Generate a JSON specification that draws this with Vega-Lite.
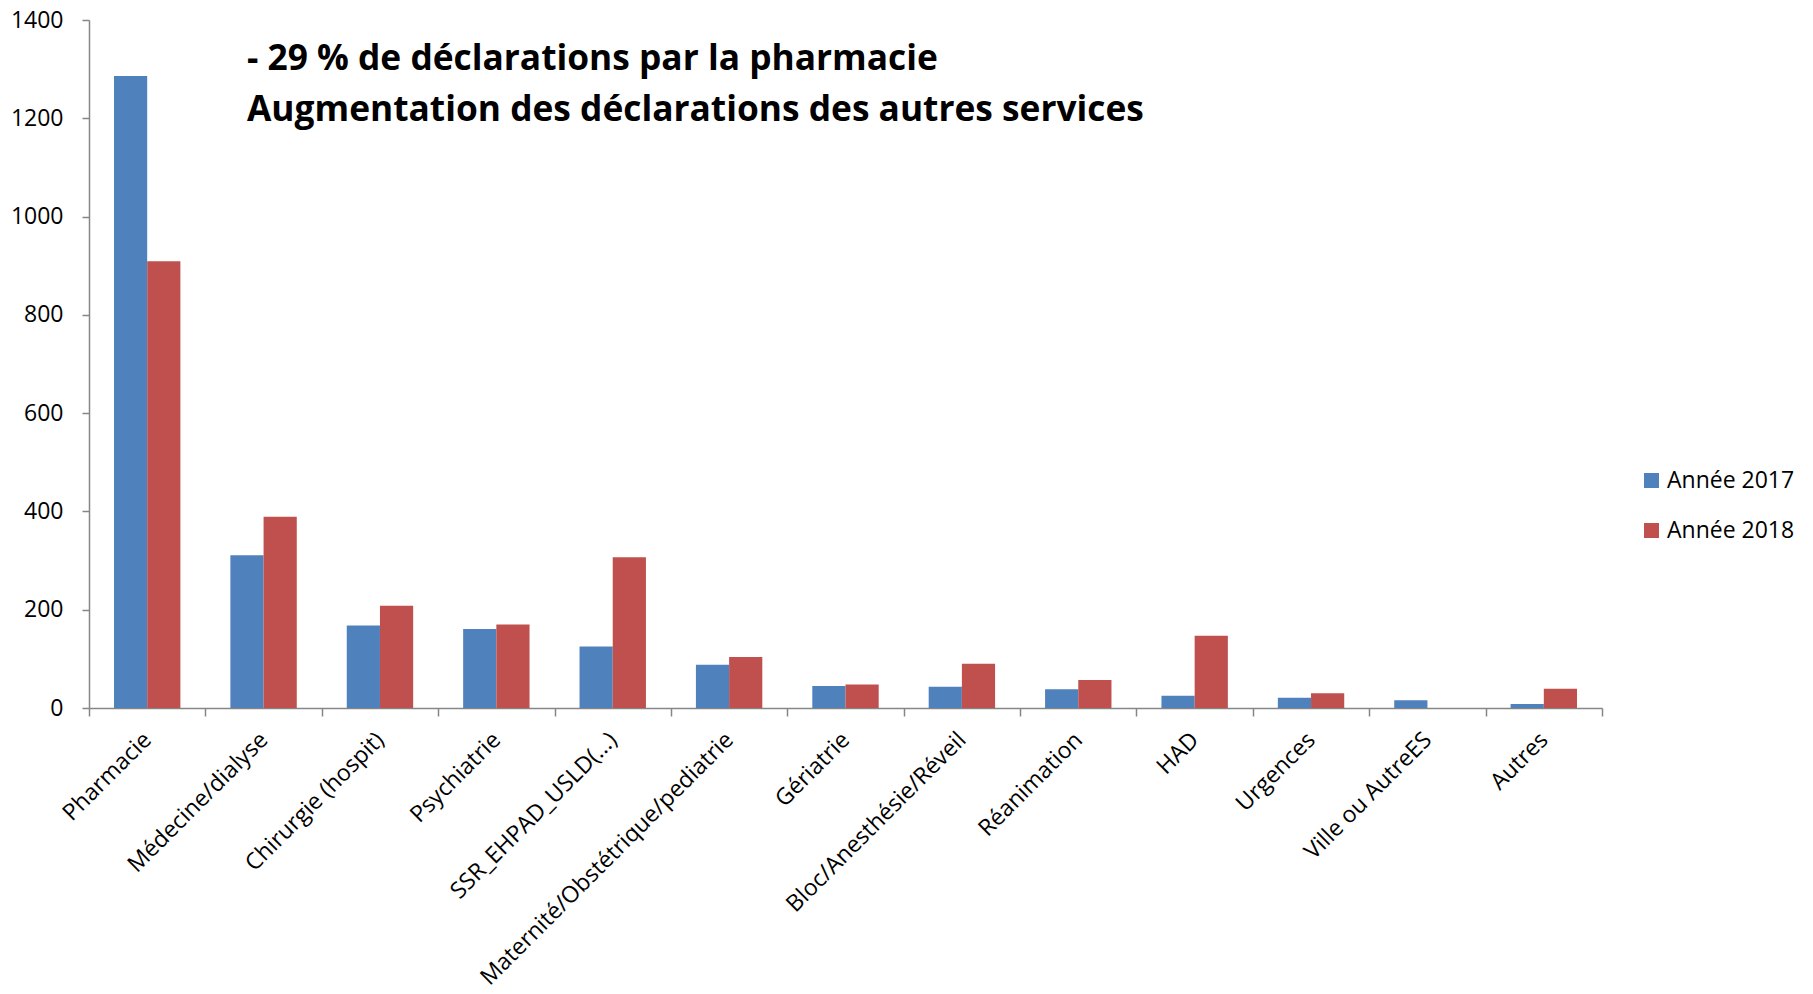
{
  "$schema": "https://vega.github.io/schema/vega-lite/v6.json",
  "width": 1513,
  "height": 688,
  "autosize": {"type": "none"},
  "padding": {"left": 89, "top": 20, "right": 211, "bottom": 286},
  "background": "white",
  "config": {"view": {"stroke": null}, "font": "Open Sans"},
  "title": {
    "text": ["- 29 % de déclarations par la pharmacie", "Augmentation des déclarations des autres services"],
    "anchor": "start",
    "frame": "group",
    "orient": "top",
    "font": "Open Sans",
    "fontWeight": "bold",
    "fontSize": 35.3,
    "lineHeight": 51,
    "color": "#000000",
    "baseline": "top",
    "offset": 0,
    "dx": 158,
    "dy": 119
  },
  "data": {
    "values": [
      {"service": "Pharmacie", "annee": "Année 2017", "n": 1286},
      {"service": "Pharmacie", "annee": "Année 2018", "n": 909},
      {"service": "Médecine/dialyse", "annee": "Année 2017", "n": 311},
      {"service": "Médecine/dialyse", "annee": "Année 2018", "n": 389},
      {"service": "Chirurgie (hospit)", "annee": "Année 2017", "n": 168},
      {"service": "Chirurgie (hospit)", "annee": "Année 2018", "n": 208},
      {"service": "Psychiatrie", "annee": "Année 2017", "n": 161},
      {"service": "Psychiatrie", "annee": "Année 2018", "n": 170},
      {"service": "SSR_EHPAD_USLD(...)", "annee": "Année 2017", "n": 125},
      {"service": "SSR_EHPAD_USLD(...)", "annee": "Année 2018", "n": 307},
      {"service": "Maternité/Obstétrique/pediatrie", "annee": "Année 2017", "n": 88},
      {"service": "Maternité/Obstétrique/pediatrie", "annee": "Année 2018", "n": 104},
      {"service": "Gériatrie", "annee": "Année 2017", "n": 45},
      {"service": "Gériatrie", "annee": "Année 2018", "n": 48},
      {"service": "Bloc/Anesthésie/Réveil", "annee": "Année 2017", "n": 43},
      {"service": "Bloc/Anesthésie/Réveil", "annee": "Année 2018", "n": 90},
      {"service": "Réanimation", "annee": "Année 2017", "n": 38},
      {"service": "Réanimation", "annee": "Année 2018", "n": 57},
      {"service": "HAD", "annee": "Année 2017", "n": 25},
      {"service": "HAD", "annee": "Année 2018", "n": 147},
      {"service": "Urgences", "annee": "Année 2017", "n": 21},
      {"service": "Urgences", "annee": "Année 2018", "n": 30},
      {"service": "Ville ou AutreES", "annee": "Année 2017", "n": 16},
      {"service": "Ville ou AutreES", "annee": "Année 2018", "n": 0},
      {"service": "Autres", "annee": "Année 2017", "n": 8},
      {"service": "Autres", "annee": "Année 2018", "n": 39}
    ]
  },
  "mark": {"type": "bar"},
  "encoding": {
    "x": {
      "field": "service",
      "type": "nominal",
      "sort": null,
      "scale": {"paddingInner": 0, "paddingOuter": 0},
      "axis": {
        "title": null,
        "labelAngle": -45,
        "labelAlign": "right",
        "labelBaseline": "middle",
        "labelFontSize": 23,
        "labelColor": "#000000",
        "labelPadding": 20,
        "tickBand": "extent",
        "tickSize": 8,
        "tickColor": "#868686",
        "tickWidth": 1.5,
        "domainColor": "#868686",
        "domainWidth": 1.5,
        "labelOverlap": false,
        "labelLimit": 0
      }
    },
    "xOffset": {
      "field": "annee",
      "type": "nominal",
      "scale": {"paddingInner": 0, "paddingOuter": 0.753}
    },
    "y": {
      "field": "n",
      "type": "quantitative",
      "scale": {"domain": [0, 1400], "nice": false},
      "axis": {
        "title": null,
        "values": [0, 200, 400, 600, 800, 1000, 1200, 1400],
        "format": "d",
        "grid": false,
        "labelFontSize": 23,
        "labelColor": "#000000",
        "labelPadding": 19,
        "tickSize": 7,
        "tickColor": "#868686",
        "tickWidth": 1.5,
        "domainColor": "#868686",
        "domainWidth": 1.5
      }
    },
    "color": {
      "field": "annee",
      "type": "nominal",
      "scale": {"domain": ["Année 2017", "Année 2018"], "range": ["#4F81BD", "#C0504D"]},
      "legend": {
        "title": null,
        "orient": "none",
        "legendX": 1551,
        "legendY": 449,
        "symbolType": "square",
        "symbolSize": 225,
        "symbolStrokeWidth": 0,
        "labelFontSize": 23,
        "labelColor": "#000000",
        "labelOffset": 4,
        "rowPadding": 26
      }
    }
  }
}
